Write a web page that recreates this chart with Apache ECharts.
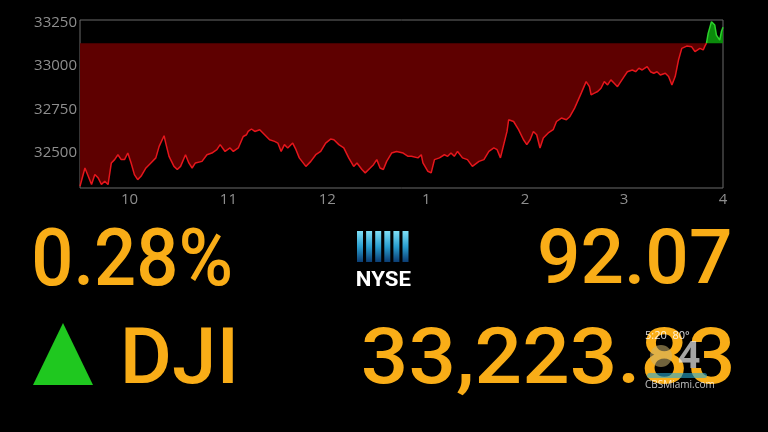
<!DOCTYPE html>
<html>
<head>
<meta charset="utf-8">
<title>DJI</title>
<script src="https://cdn.jsdelivr.net/npm/echarts/dist/echarts.min.js"></script>
<style>
    html, body { margin: 0; padding: 0; background: #000; }
    #chart { width: 768px; height: 432px; }
</style>
</head>
<body>
<div id="chart"></div>
<script>
// minutes after the 9:30 open
var minutesFromOpen = [0, 3, 5, 7, 9, 11, 13, 15, 17, 19,
    21, 23, 25, 27, 29, 31, 33, 35, 37, 40,
    43, 46, 48, 51, 52, 54, 57, 59, 61, 64,
    66, 68, 70, 74, 77, 80, 83, 85, 88, 91,
    93, 96, 99, 101, 102, 104, 106, 109, 112, 115,
    118, 120, 122, 124, 126, 129, 131, 133, 137, 140,
    143, 146, 149, 152, 154, 157, 160, 163, 166, 168,
    171, 173, 176, 178, 180, 182, 184, 186, 189, 192,
    196, 199, 201, 205, 207, 208, 211, 213, 215, 218,
    221, 223, 225, 227, 229, 232, 235, 238, 242, 245,
    248, 251, 253, 255, 257, 259, 260, 263, 266, 269,
    271, 273, 275, 277, 279, 281, 284, 287, 289, 292,
    295, 297, 300, 304, 307, 309, 310, 312, 314, 316,
    318, 320, 322, 324, 326, 328, 330, 332, 335, 337,
    339, 341, 344, 346, 348, 350, 352, 355, 357, 359,
    360, 361, 363, 365, 368, 371, 373, 374, 376, 378,
    379, 380, 381, 383, 385, 386, 388, 389, 390];

var djiValues = [32310, 32415, 32367, 32320, 32377, 32358, 32320, 32339, 32320, 32444,
    32463, 32491, 32463, 32463, 32501, 32444, 32377, 32348, 32367, 32415,
    32444, 32473, 32539, 32600, 32558, 32482, 32424, 32406, 32424, 32491,
    32444, 32415, 32444, 32453, 32491, 32501, 32520, 32549, 32510, 32530,
    32510, 32530, 32596, 32606, 32625, 32639, 32625, 32635, 32606, 32577,
    32568, 32558, 32510, 32549, 32530, 32558, 32520, 32473, 32424, 32453,
    32491, 32510, 32558, 32581, 32577, 32549, 32530, 32473, 32424, 32444,
    32406, 32387, 32415, 32434, 32463, 32415, 32406, 32453, 32501, 32510,
    32501, 32482, 32482, 32473, 32491, 32444, 32396, 32387, 32463, 32473,
    32491, 32482, 32501, 32482, 32510, 32473, 32463, 32424, 32453, 32463,
    32510, 32530, 32520, 32473, 32549, 32625, 32692, 32682, 32635, 32577,
    32549, 32577, 32625, 32606, 32530, 32587, 32616, 32635, 32682, 32702,
    32692, 32709, 32759, 32845, 32911, 32882, 32835, 32845, 32854, 32873,
    32911, 32892, 32921, 32902, 32882, 32911, 32940, 32968, 32978, 32968,
    32988, 32978, 32997, 32968, 32959, 32968, 32949, 32959, 32940, 32892,
    32882, 32940, 33035, 33102, 33115, 33111, 33083, 33074, 33102, 33093,
    33115, 33132, 33188, 33255, 33236, 33178, 33150, 33197, 33224];

var prevClose = 33131.76;
var hourLabels = ['10', '11', '12', '1', '2', '3', '4'];
var priceTicks = [32500, 32750, 33000, 33250];

var changePct = '0.28%';
var changePts = '92.07';
var indexName = 'DJI';
var lastValue = '33,223.83';

ChartModule = (function (window, document, echarts) {
    var chart;
    var FAMILY = '"Open Sans", "Noto Sans", sans-serif';
    var BIG_FAMILY = 'Roboto, "Open Sans", sans-serif';
    var YELLOW = '#f9ad17';
    var measureCtx = document.createElement('canvas').getContext('2d');

    function fontOf(size, weight) {
        return (weight || 'normal') + ' ' + size + 'px ' + BIG_FAMILY;
    }

    function measure(str, size, weight) {
        measureCtx.font = fontOf(size, weight);
        measureCtx.textBaseline = 'middle';
        var m = measureCtx.measureText(str);
        return {
            left: m.actualBoundingBoxLeft,
            width: m.actualBoundingBoxLeft + m.actualBoundingBoxRight,
            ascent: m.actualBoundingBoxAscent,
            descent: m.actualBoundingBoxDescent
        };
    }

    // text stretched so its ink fills the box left..right, capTop..capBottom
    function fitText(str, left, right, capTop, capBottom, color, weight) {
        var probe = measure('H', 100, weight);
        var size = (capBottom - capTop) / (probe.ascent + probe.descent) * 100;
        var m = measure(str, size, weight);
        var h = measure('H', size, weight);
        return {
            type: 'text',
            x: left,
            y: capTop + h.ascent,
            scaleX: (right - left) / m.width,
            z: 10,
            style: {
                text: str,
                x: m.left,
                y: 0,
                font: fontOf(size, weight),
                fill: color,
                align: 'left',
                verticalAlign: 'middle',
                textAlign: 'left',
                textVerticalAlign: 'middle'
            }
        };
    }

    var ChartClass = function () {
        this.init = function () {
            chart = echarts.init(document.getElementById('chart'));
            chart.setOption(this.buildOption());
        };
    };
    ChartClass.prototype = {
        buildOption: function () {
            var pairs = minutesFromOpen.map(function (m, i) {
                return [m, djiValues[i]];
            });
            // split where the index climbs back over the previous close
            var k = 0;
            while (k < djiValues.length && djiValues[k] < prevClose) k++;
            var below = pairs.slice(0, k + 1);
            var above = pairs.slice(k);

            var axisText = {
                color: '#8e8e8e',
                fontSize: 15,
                fontFamily: FAMILY
            };

            var graphics = [
                fitText(changePct, 35, 230, 228, 285, YELLOW, 500),
                fitText(changePts, 540, 730, 229, 284, YELLOW, 500),
                fitText(indexName, 125, 233, 327, 383, YELLOW, 500),
                fitText(lastValue, 363, 731, 327, 383, YELLOW, 500),
                fitText('NYSE', 357, 411, 271, 285, '#ffffff', 'bold'),
                {
                    type: 'polygon',
                    shape: { points: [[63, 323], [33, 385], [93, 385]] },
                    style: { fill: '#1fc81f' }
                }
            ];
            // NYSE bars
            for (var b = 0; b < 6; b++) {
                graphics.push({
                    type: 'rect',
                    shape: { x: 357 + b * 9.1, y: 231, width: 6, height: 31 },
                    style: {
                        fill: new echarts.graphic.LinearGradient(0, 0, 0, 1, [
                            { offset: 0, color: '#7fe0f7' },
                            { offset: 0.5, color: '#2a9fd0' },
                            { offset: 1, color: '#0b3d73' }
                        ])
                    }
                });
            }
            // station bug
            graphics.push(
                {
                    type: 'text', z: 20,
                    style: { text: '5:20  80°', x: 645, y: 336, font: '11px ' + FAMILY, fill: 'rgba(255,255,255,0.85)', verticalAlign: 'middle', textVerticalAlign: 'middle' }
                },
                {
                    type: 'circle', z: 20,
                    shape: { cx: 661, cy: 356, r: 11 },
                    style: { fill: 'rgba(205,180,110,0.55)' }
                },
                {
                    type: 'text', z: 20,
                    style: { text: '4', x: 689, y: 357, font: 'bold 38px ' + FAMILY, fill: 'rgba(235,235,235,0.7)', align: 'center', verticalAlign: 'middle', textAlign: 'center', textVerticalAlign: 'middle' }
                },
                {
                    type: 'rect', z: 20,
                    shape: { x: 647, y: 373, width: 60, height: 5, r: 3 },
                    style: { fill: 'rgba(40,170,210,0.6)' }
                },
                {
                    type: 'text', z: 20,
                    style: { text: 'CBSMiami.com', x: 645, y: 385, font: '10px ' + FAMILY, fill: 'rgba(255,255,255,0.75)', verticalAlign: 'middle', textVerticalAlign: 'middle' }
                }
            );

            return {
                backgroundColor: '#000',
                animation: false,
                grid: {
                    left: 80,
                    right: 45,
                    top: 20,
                    bottom: 244,
                    show: true,
                    borderColor: '#6a6a6a',
                    borderWidth: 1
                },
                xAxis: {
                    type: 'value',
                    min: 0,
                    max: 390,
                    interval: 30,
                    axisLine: { show: false },
                    axisTick: { show: false },
                    splitLine: { show: false },
                    axisLabel: Object.assign({
                        margin: 4,
                        formatter: function (v) {
                            if (v >= 30 && (v - 30) % 60 === 0) return hourLabels[(v - 30) / 60];
                            return '';
                        }
                    }, axisText)
                },
                yAxis: {
                    type: 'value',
                    min: 32300,
                    max: 33265,
                    interval: 50,
                    axisLine: { show: false },
                    axisTick: { show: false },
                    splitLine: { show: false },
                    axisLabel: Object.assign({
                        margin: 3,
                        formatter: function (v) {
                            return priceTicks.indexOf(v) >= 0 ? String(v) : '';
                        }
                    }, axisText)
                },
                series: [{
                    type: 'line',
                    data: below,
                    symbol: 'none',
                    lineStyle: { color: '#e5161c', width: 1.5 },
                    areaStyle: { color: '#5e0000', opacity: 1, origin: prevClose }
                }, {
                    type: 'line',
                    data: above,
                    symbol: 'none',
                    lineStyle: { color: '#2bd12b', width: 1.5 },
                    areaStyle: { color: '#0b8a0b', opacity: 1, origin: prevClose }
                }],
                graphic: { elements: graphics }
            };
        },
        constructor: ChartClass
    };
    return new ChartClass();
})(window, document, echarts);
ChartModule.init();
</script>
</body>
</html>
